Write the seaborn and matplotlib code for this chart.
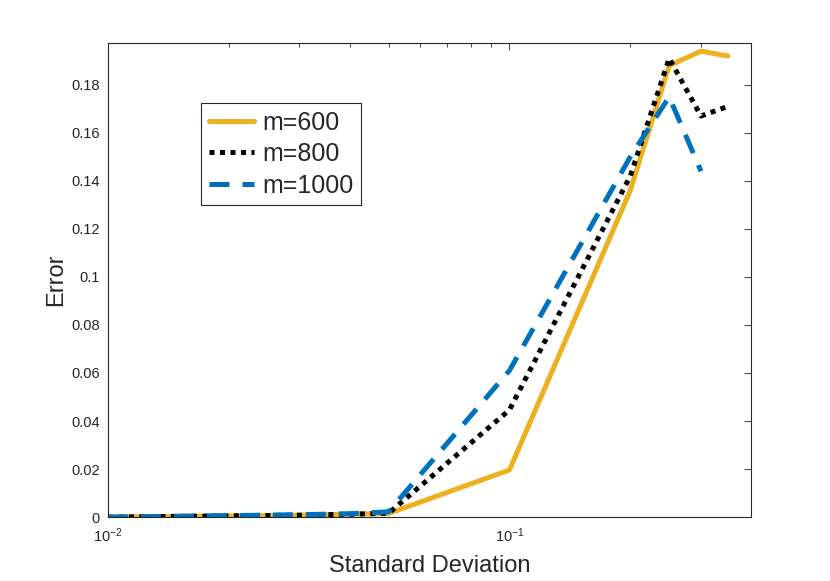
import matplotlib
matplotlib.use('Agg')
import matplotlib.pyplot as plt
import matplotlib.ticker as mticker
import seaborn as sns
import pandas as pd
import numpy as np

# values
std_dev = [0.01, 0.02, 0.03, 0.04, 0.05, 0.1, 0.2, 0.25, 0.3, 0.35]
err_600 = [0.0, 0.0005, 0.0008, 0.0012, 0.0015, 0.0196, 0.136, 0.188, 0.194, 0.192]
err_800 = [0.0, 0.0005, 0.0008, 0.0012, 0.0016, 0.0446, 0.142, 0.191, 0.167, 0.171]
err_1000 = [0.0, 0.0006, 0.001, 0.0014, 0.0022, 0.061, 0.150, 0.175, 0.144, np.nan]
labels = ['m=600', 'm=800', 'm=1000']

df = pd.DataFrame({
    'Standard Deviation': std_dev * 3,
    'Error': err_600 + err_800 + err_1000,
    'm': [labels[0]] * 10 + [labels[1]] * 10 + [labels[2]] * 10,
})

sns.set_style('white')
plt.rcParams['font.family'] = ['Liberation Sans', 'DejaVu Sans']
plt.rcParams['text.color'] = '#262626'
plt.rcParams['axes.labelcolor'] = '#262626'
plt.rcParams['xtick.color'] = '#262626'
plt.rcParams['ytick.color'] = '#262626'

fig = plt.figure(figsize=(8.3, 5.81), dpi=100)
ax = fig.add_axes([0.130, 0.110, 0.775, 0.816])

palette = {'m=600': '#EDB120', 'm=800': '#000000', 'm=1000': '#0072BD'}
dashes = {'m=600': '', 'm=800': (1, 1.1), 'm=1000': (4, 2.6)}
graph = sns.lineplot(x='Standard Deviation', y='Error', hue='m', style='m',
                     data=df, palette=palette, dashes=dashes, linewidth=3.6,
                     ax=ax, legend=True)

ax.set_xscale('log')
ax.set_xlim(0.01, 0.4)
ax.set_ylim(0, 0.1974)
ax.set_yticks(np.arange(0, 0.181, 0.02))
ax.yaxis.set_major_formatter(mticker.FuncFormatter(lambda v, p: '{:g}'.format(round(v, 4))))

ax.tick_params(which='both', direction='in', top=True, right=True, labelsize=10.5)
ax.tick_params(which='major', length=5, width=0.6)
ax.tick_params(which='minor', length=3, width=0.6)
ax.tick_params(axis='x', which='both', pad=7)
ax.tick_params(axis='y', which='both', pad=6)
ax.xaxis.set_minor_formatter(mticker.NullFormatter())
for s in ax.spines.values():
    s.set_linewidth(0.8)
    s.set_color('#262626')

ax.set_xlabel('Standard Deviation', size=17, labelpad=7)
ax.set_ylabel('Error', size=17, labelpad=3)

handles, lbls = ax.get_legend_handles_labels()
leg = ax.legend(handles, lbls, loc='upper left', bbox_to_anchor=(0.145, 0.873),
                borderaxespad=0, fancybox=False, edgecolor='#262626',
                fontsize=18, handlelength=1.8, labelspacing=0.3,
                borderpad=0.3, handletextpad=0.35, framealpha=1)
leg.get_frame().set_linewidth(0.8)

plt.savefig('out.png', dpi=100)
